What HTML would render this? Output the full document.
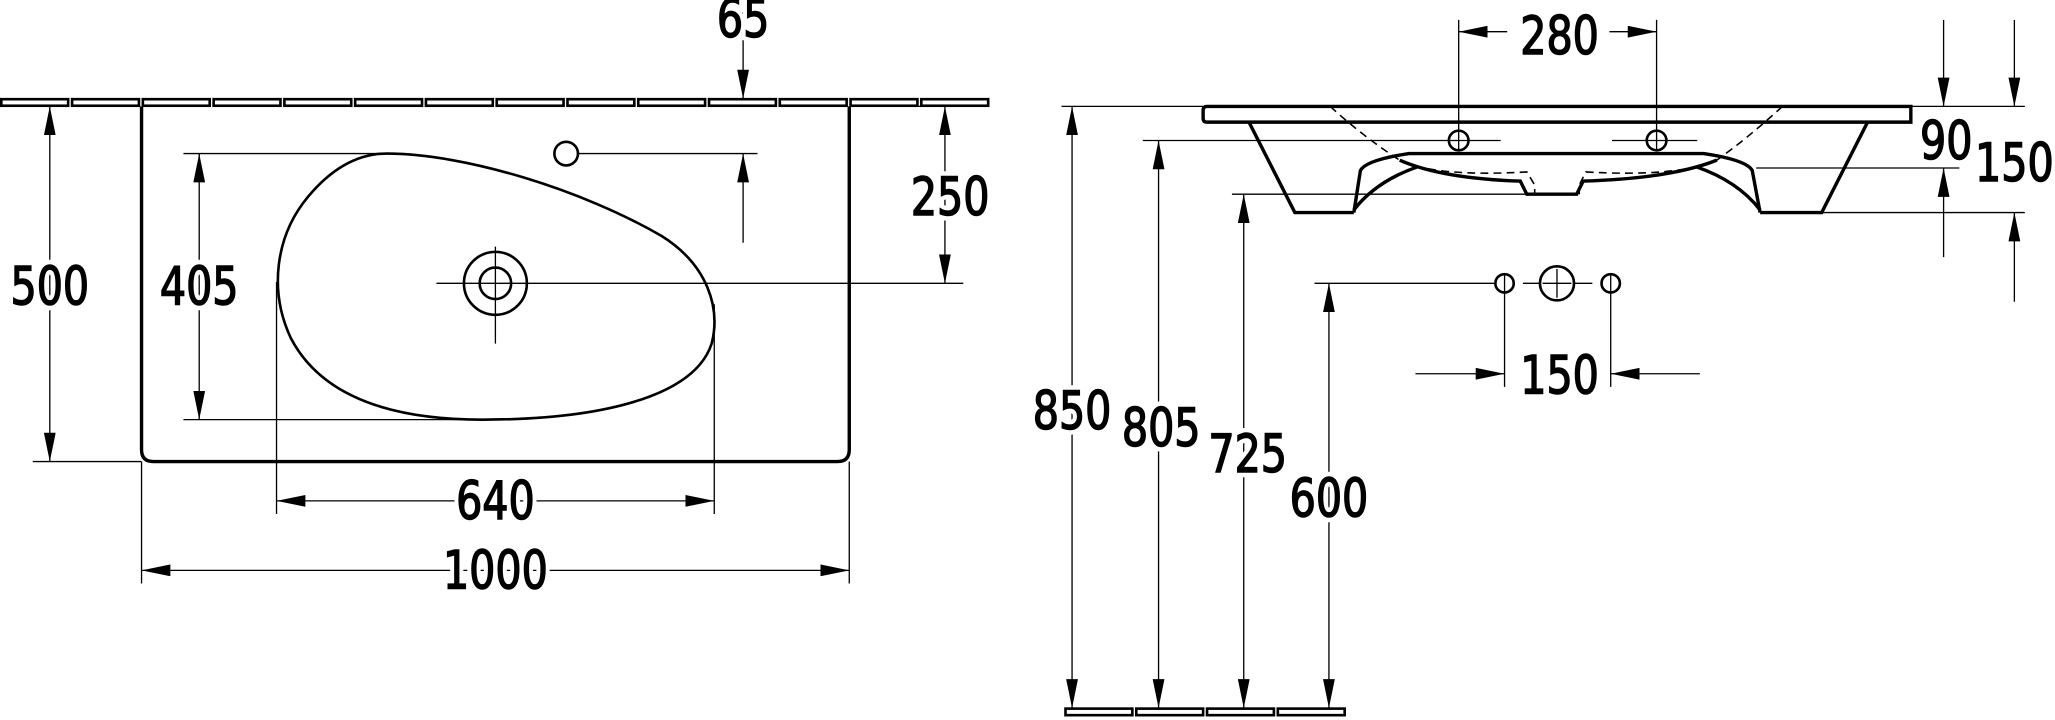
<!DOCTYPE html>
<html><head><meta charset="utf-8"><style>
html,body{margin:0;padding:0;background:#fff;}
svg{display:block;}
text{font-family:"DejaVu Sans Condensed","Liberation Sans Narrow","Liberation Sans",sans-serif;font-size:40px;fill:#000;text-anchor:middle;}
.h text{stroke:#fff;stroke-width:8px;}
.f text{stroke:#000;stroke-width:1.1px;}
.t{stroke:#000;stroke-width:1;fill:none;}
.m{stroke:#000;stroke-width:2;fill:none;}
.k{stroke:#000;stroke-width:2.6;fill:none;}
.d{stroke:#000;stroke-width:1.2;fill:none;stroke-dasharray:6 4;}
</style></head><body>
<svg width="2055" height="720" viewBox="0 0 1568 549" xmlns="http://www.w3.org/2000/svg">
<defs>
<marker id="a" viewBox="0 0 22 9" refX="22" refY="4.5" markerWidth="22" markerHeight="9" markerUnits="userSpaceOnUse" orient="auto-start-reverse"><path d="M0,0 L22,4.5 L0,9 z" fill="#000"/></marker>
</defs>

<g class="m" stroke-width="1.6">
<rect x="1" y="75.5" width="51" height="5"/><rect x="55" y="75.5" width="51" height="5"/><rect x="109" y="75.5" width="51" height="5"/><rect x="163" y="75.5" width="51" height="5"/><rect x="217" y="75.5" width="51" height="5"/><rect x="271" y="75.5" width="51" height="5"/><rect x="325" y="75.5" width="51" height="5"/><rect x="379" y="75.5" width="51" height="5"/><rect x="433" y="75.5" width="51" height="5"/><rect x="487" y="75.5" width="51" height="5"/><rect x="541" y="75.5" width="51" height="5"/><rect x="595" y="75.5" width="51" height="5"/><rect x="649" y="75.5" width="51" height="5"/><rect x="703" y="75.5" width="51" height="5"/>
</g>

<path class="k" d="M108,81 V343 Q108,352 117,352 H639 Q648,352 648,343 V81"/>
<path class="m" stroke-width="1.5" d="M295,117 C355,117 445,145 505,180 C540,202 550,235 543,262 C530,302 460,320 368,320 C290,320 243,298 222,258 C205,222 210,180 235,150 C255,126 275,117 295,117 Z"/>
<circle class="m" stroke-width="1.5" cx="378" cy="216" r="24"/>
<circle class="m" stroke-width="1.5" cx="378" cy="216" r="12"/>
<path class="t" d="M378,188 V262 M333,216 H735"/>
<circle class="m" cx="432" cy="117" r="9"/>
<path class="t" d="M441,117 H578"/>

<line class="t" x1="567" y1="0" x2="567" y2="75" marker-end="url(#a)"/>
<line class="t" x1="567" y1="185" x2="567" y2="117" marker-end="url(#a)"/>
<path class="t" d="M648,81 H735"/>
<line class="t" x1="721" y1="81" x2="721" y2="216" marker-start="url(#a)" marker-end="url(#a)"/>
<path class="t" d="M25,352 H108"/>
<line class="t" x1="38" y1="81" x2="38" y2="352" marker-start="url(#a)" marker-end="url(#a)"/>
<path class="t" d="M140,117 H300 M140,320 H370"/>
<line class="t" x1="152" y1="117" x2="152" y2="320" marker-start="url(#a)" marker-end="url(#a)"/>
<path class="t" d="M211,215 V392 M545,232 V392"/>
<line class="t" x1="211" y1="382" x2="545" y2="382" marker-start="url(#a)" marker-end="url(#a)"/>
<path class="t" d="M108,352 V445 M648,352 V445"/>
<line class="t" x1="108" y1="435" x2="648" y2="435" marker-start="url(#a)" marker-end="url(#a)"/>

<path class="k" d="M921,81 H1458 V93 H921 Q918,93 918,90 V84 Q918,81 921,81 Z"/>
<path class="k" d="M953,93 L988,162 H1033 M1425,93 L1390,162 H1343"/>
<path class="k" d="M1033,162 L1038,130 Q1042,122 1075,117 H1300 Q1333,122 1337,130 L1343,162"/>
<path class="k" d="M1033,160 Q1050,138 1082,127 M1343,160 Q1326,138 1294,127"/>
<path class="k" d="M1068,122 Q1100,136 1160,138 L1165,148 H1203 L1208,138 Q1275,136 1310,122"/>
<path class="d" d="M1015,81 Q1040,104 1068,122 Q1095,135 1165,131 L1171,141 V148 M1360,81 Q1335,104 1310,122 Q1280,135 1210,131 L1205,141 V148"/>

<circle class="m" cx="1113" cy="107" r="7.5"/>
<circle class="m" cx="1264" cy="107" r="7.5"/>
<path class="t" d="M1113,15 V115 M1264,15 V115 M1106,107 H1145 M1257,107 H1295 M872,107 H1106 M1230,107 H1257"/>
<line class="t" x1="1150" y1="24" x2="1113" y2="24" marker-end="url(#a)"/>
<line class="t" x1="1228" y1="24" x2="1264" y2="24" marker-end="url(#a)"/>
<path class="t" d="M810,81 H918 M1458,81 H1545 M1340,128 H1495 M940,148 H1200 M1390,162 H1545"/>
<line class="t" x1="1483" y1="15" x2="1483" y2="81" marker-end="url(#a)"/>
<line class="t" x1="1483" y1="196" x2="1483" y2="128" marker-end="url(#a)"/>
<line class="t" x1="1537" y1="15" x2="1537" y2="81" marker-end="url(#a)"/>
<line class="t" x1="1537" y1="230" x2="1537" y2="162" marker-end="url(#a)"/>

<circle class="m" cx="1148" cy="216" r="7"/>
<circle class="m" cx="1188" cy="216" r="13"/>
<circle class="m" cx="1229" cy="216" r="7"/>
<path class="t" d="M1003,216 H1141 M1162,216 H1175 M1201,216 H1215 M1188,205 V227 M1177,216 H1199 M1148,209 V223 M1229,209 V223 M1148,223 V295 M1229,223 V295"/>
<line class="t" x1="1080" y1="285" x2="1148" y2="285" marker-end="url(#a)"/>
<line class="t" x1="1297" y1="285" x2="1229" y2="285" marker-end="url(#a)"/>

<g class="m" stroke-width="1.6">
<rect x="813" y="540.5" width="51" height="5"/><rect x="867" y="540.5" width="51" height="5"/><rect x="921" y="540.5" width="51" height="5"/><rect x="975" y="540.5" width="51" height="5"/>
</g>
<line class="t" x1="818" y1="81" x2="818" y2="540" marker-start="url(#a)" marker-end="url(#a)"/>
<line class="t" x1="884" y1="107" x2="884" y2="540" marker-start="url(#a)" marker-end="url(#a)"/>
<line class="t" x1="949" y1="148" x2="949" y2="540" marker-start="url(#a)" marker-end="url(#a)"/>
<line class="t" x1="1014" y1="216" x2="1014" y2="540" marker-start="url(#a)" marker-end="url(#a)"/>

<g class="h">
<text x="567" y="28" textLength="40" lengthAdjust="spacingAndGlyphs">65</text>
<text x="725" y="164" textLength="60" lengthAdjust="spacingAndGlyphs">250</text>
<text x="38" y="232" textLength="60" lengthAdjust="spacingAndGlyphs">500</text>
<text x="152" y="232" textLength="60" lengthAdjust="spacingAndGlyphs">405</text>
<text x="378" y="396" textLength="60" lengthAdjust="spacingAndGlyphs">640</text>
<text x="378" y="449" textLength="80" lengthAdjust="spacingAndGlyphs">1000</text>
<text x="1190" y="41" textLength="60" lengthAdjust="spacingAndGlyphs">280</text>
<text x="1485" y="121" textLength="40" lengthAdjust="spacingAndGlyphs">90</text>
<text x="1537" y="138" textLength="60" lengthAdjust="spacingAndGlyphs">150</text>
<text x="1190" y="300" textLength="60" lengthAdjust="spacingAndGlyphs">150</text>
<text x="818" y="327" textLength="60" lengthAdjust="spacingAndGlyphs">850</text>
<text x="886" y="340" textLength="60" lengthAdjust="spacingAndGlyphs">805</text>
<text x="952" y="360" textLength="60" lengthAdjust="spacingAndGlyphs">725</text>
<text x="1014" y="394" textLength="60" lengthAdjust="spacingAndGlyphs">600</text>
</g>
<g class="f">
<text x="567" y="28" textLength="40" lengthAdjust="spacingAndGlyphs">65</text>
<text x="725" y="164" textLength="60" lengthAdjust="spacingAndGlyphs">250</text>
<text x="38" y="232" textLength="60" lengthAdjust="spacingAndGlyphs">500</text>
<text x="152" y="232" textLength="60" lengthAdjust="spacingAndGlyphs">405</text>
<text x="378" y="396" textLength="60" lengthAdjust="spacingAndGlyphs">640</text>
<text x="378" y="449" textLength="80" lengthAdjust="spacingAndGlyphs">1000</text>
<text x="1190" y="41" textLength="60" lengthAdjust="spacingAndGlyphs">280</text>
<text x="1485" y="121" textLength="40" lengthAdjust="spacingAndGlyphs">90</text>
<text x="1537" y="138" textLength="60" lengthAdjust="spacingAndGlyphs">150</text>
<text x="1190" y="300" textLength="60" lengthAdjust="spacingAndGlyphs">150</text>
<text x="818" y="327" textLength="60" lengthAdjust="spacingAndGlyphs">850</text>
<text x="886" y="340" textLength="60" lengthAdjust="spacingAndGlyphs">805</text>
<text x="952" y="360" textLength="60" lengthAdjust="spacingAndGlyphs">725</text>
<text x="1014" y="394" textLength="60" lengthAdjust="spacingAndGlyphs">600</text>
</g>
</svg>
</body></html>
